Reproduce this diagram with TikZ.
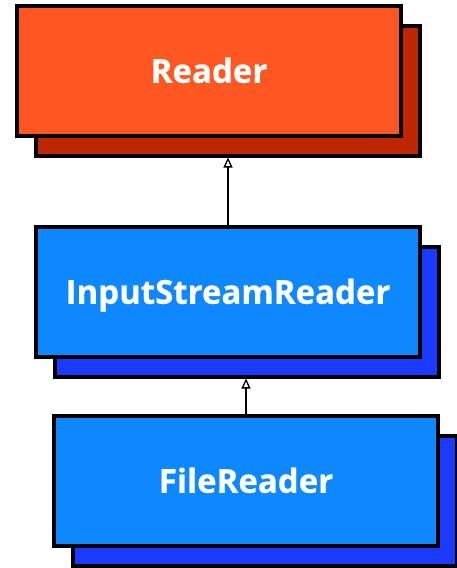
\documentclass[tikz,border=0pt]{standalone}
\usepackage{fontspec}
\setmainfont{Open Sans}[BoldFeatures={FakeBold=0.6}]
\usetikzlibrary{arrows.meta}
\definecolor{redfront}{HTML}{FF5722}
\definecolor{redback}{HTML}{BF2600}
\definecolor{bluefront}{HTML}{0D88FF}
\definecolor{blueback}{HTML}{1A3AFF}
\tikzset{
  card/.style={draw=black, line width=4pt, minimum width=384pt, minimum height=130pt,
    inner sep=0pt, outer sep=2pt, text=white, text height=23.5pt, text depth=0pt,
    font=\bfseries\fontsize{33}{40}\selectfont},
  inherit/.style={draw=black, line width=1.4pt,
    -{Triangle[open, length=10pt, width=9pt, line width=1.3pt, fill=white]}},
}
\begin{document}
\begin{tikzpicture}[x=1pt, y=-1pt]
  \useasboundingbox (0,0) rectangle (456,568);
  % Reader
  \node[card, fill=redback] (readerB) at (228,90.5) {};
  \node[card, fill=redfront] (reader) at (209,71) {Reader};
  % InputStreamReader
  \node[card, fill=blueback] (isrB) at (247,311.5) {};
  \node[card, fill=bluefront] (isr) at (228,292) {InputStreamReader};
  % FileReader
  \node[card, fill=blueback] (frB) at (265,500.5) {};
  \node[card, fill=bluefront] (fr) at (246,481) {FileReader};
  % inheritance arrows
  \draw[inherit] (isr.north) -- (isr.north |- readerB.south);
  \draw[inherit] (fr.north) -- (fr.north |- isrB.south);
\end{tikzpicture}
\end{document}
